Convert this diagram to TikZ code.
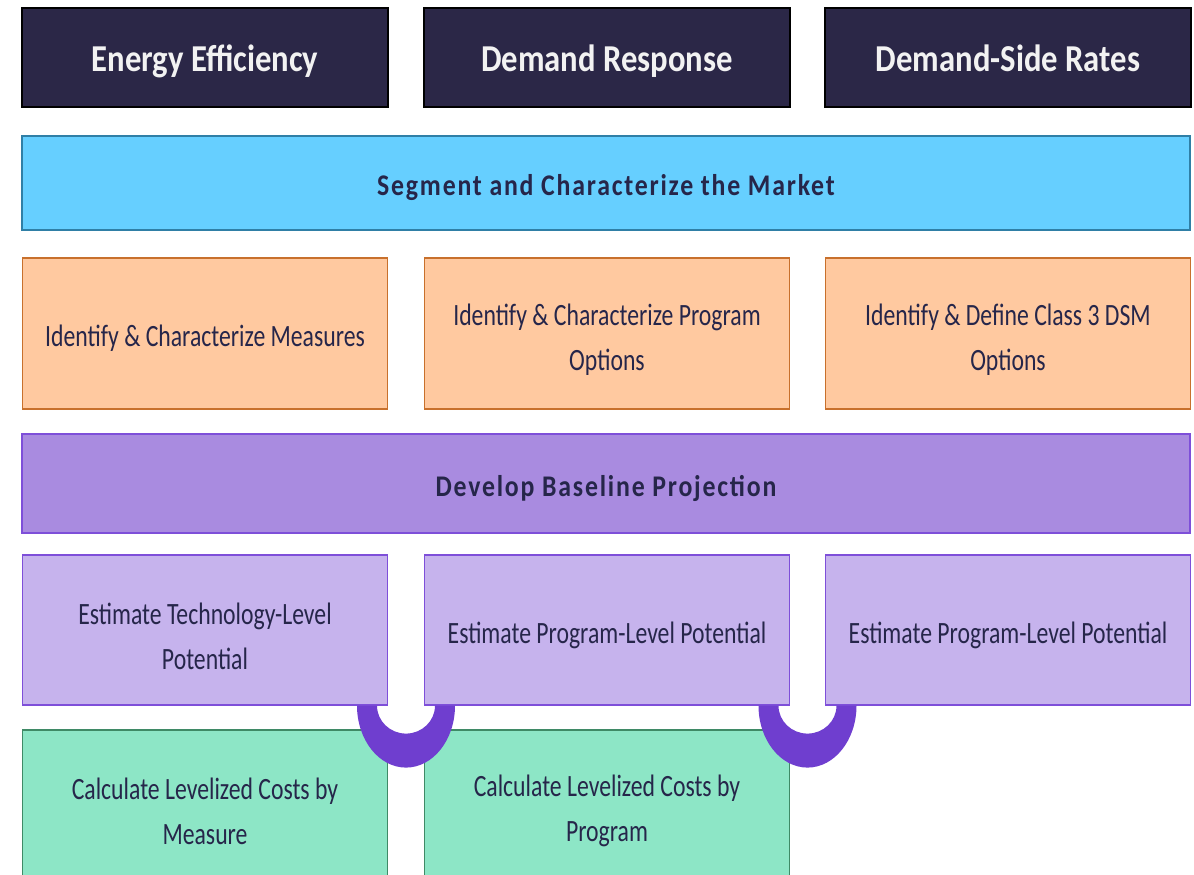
\documentclass[tikz,border=0pt]{standalone}
\usepackage{fontspec}
\setmainfont{Carlito}[FakeStretch=0.765]
\newfontfamily\hdrfont{Carlito}[FakeStretch=0.86]
\newfontfamily\barfont{Carlito}[FakeStretch=0.86, LetterSpace=6]
\usetikzlibrary{calc}
\definecolor{hdrnavy}{HTML}{2B2747}
\definecolor{hdrtxt}{HTML}{F2F2F2}
\definecolor{txtnavy}{HTML}{26264A}
\definecolor{segblue}{HTML}{66CFFF}
\definecolor{segline}{HTML}{2F7FA6}
\definecolor{idorange}{HTML}{FFC9A0}
\definecolor{idline}{HTML}{C8702C}
\definecolor{basepurple}{HTML}{A98BE0}
\definecolor{baseline}{HTML}{7E4FD9}
\definecolor{estlilac}{HTML}{C6B3ED}
\definecolor{calcgreen}{HTML}{8DE6C6}
\definecolor{calcline}{HTML}{3F8A66}
\definecolor{ringpurple}{HTML}{6F3ECF}
% strut for the first text line of the boxes
\newcommand\bodystrut{\rule[-7pt]{0pt}{41pt}}

\begin{document}
\begin{tikzpicture}[x=1pt,y=1pt,
    box/.style={rectangle, draw, line width=1.2pt, inner sep=0pt, align=center,
      text=txtnavy, font=\fontsize{31}{45}\selectfont},
    hdr/.style={box, fill=hdrnavy, draw=black, text=hdrtxt, minimum width=366pt,
      minimum height=99pt, font=\hdrfont\bfseries\fontsize{38}{40}\selectfont,
      execute at begin node={\rule[-9pt]{0pt}{47pt}}},
    bar/.style={box, minimum width=1168pt, font=\barfont\bfseries\fontsize{30}{34}\selectfont,
      execute at begin node={\rule[-8pt]{0pt}{42pt}}},
    idbox/.style={box, fill=idorange, draw=idline, minimum width=365pt, minimum height=151pt},
    estbox/.style={box, fill=estlilac, draw=baseline, minimum width=365pt, minimum height=150pt},
    calcbox/.style={box, fill=calcgreen, draw=calcline, minimum width=365pt, minimum height=150pt},
    ring/.style={fill=ringpurple}]
  \useasboundingbox (0,0) rectangle (1194,875);
  \clip (0,0) rectangle (1194,875);
  \fill[white] (0,0) rectangle (1194,875);

  % headers
  \node[hdr] (ee) at (205, 817.5) {Energy Efficiency};
  \node[hdr] (dr) at (607, 817.5) {Demand Response};
  \node[hdr] (dsr) at (1008, 817.5) {Demand-Side Rates};

  \node[bar, fill=segblue, draw=segline, minimum height=94pt] (seg) at (606, 692) {Segment and Characterize the Market};

  \node[idbox] (idm) at (205, 541.5) {\bodystrut Identify \& Characterize Measures};
  \node[idbox] (idp) at (607, 541.5) {\bodystrut Identify \& Characterize Program\\Options};
  \node[idbox] (idr) at (1008, 541.5) {\bodystrut Identify \& Define Class 3 DSM\\Options};

  \node[bar, fill=basepurple, draw=baseline, minimum height=99pt] (base) at (606, 391.5) {Develop Baseline Projection};

  \node[estbox] (est1) at (205, 245) {\bodystrut Estimate Technology-Level\\Potential};
  \node[estbox] (est2) at (607, 245) {\bodystrut Estimate Program-Level Potential};
  \node[estbox] (est3) at (1008, 245) {\bodystrut Estimate Program-Level Potential};

  \node[calcbox] (calc1) at (205, 70) {\bodystrut Calculate Levelized Costs by\\Measure};
  \node[calcbox] (calc2) at (607, 70) {\bodystrut Calculate Levelized Costs by\\Program};

  % rings between the columns
  \coordinate (r1) at ($(est1.south east)!.5!(est2.south west)$);
  \coordinate (r2) at ($(est2.south east)!.5!(est3.south west)$);
  \foreach \r in {r1, r2}
    \fill[ring] (\r) ++(-49,0) arc[start angle=180, end angle=360, x radius=49, y radius=62]
      -- ++(-20,0) arc[start angle=0, end angle=-180, x radius=29, y radius=28] -- cycle;
\end{tikzpicture}
\end{document}
